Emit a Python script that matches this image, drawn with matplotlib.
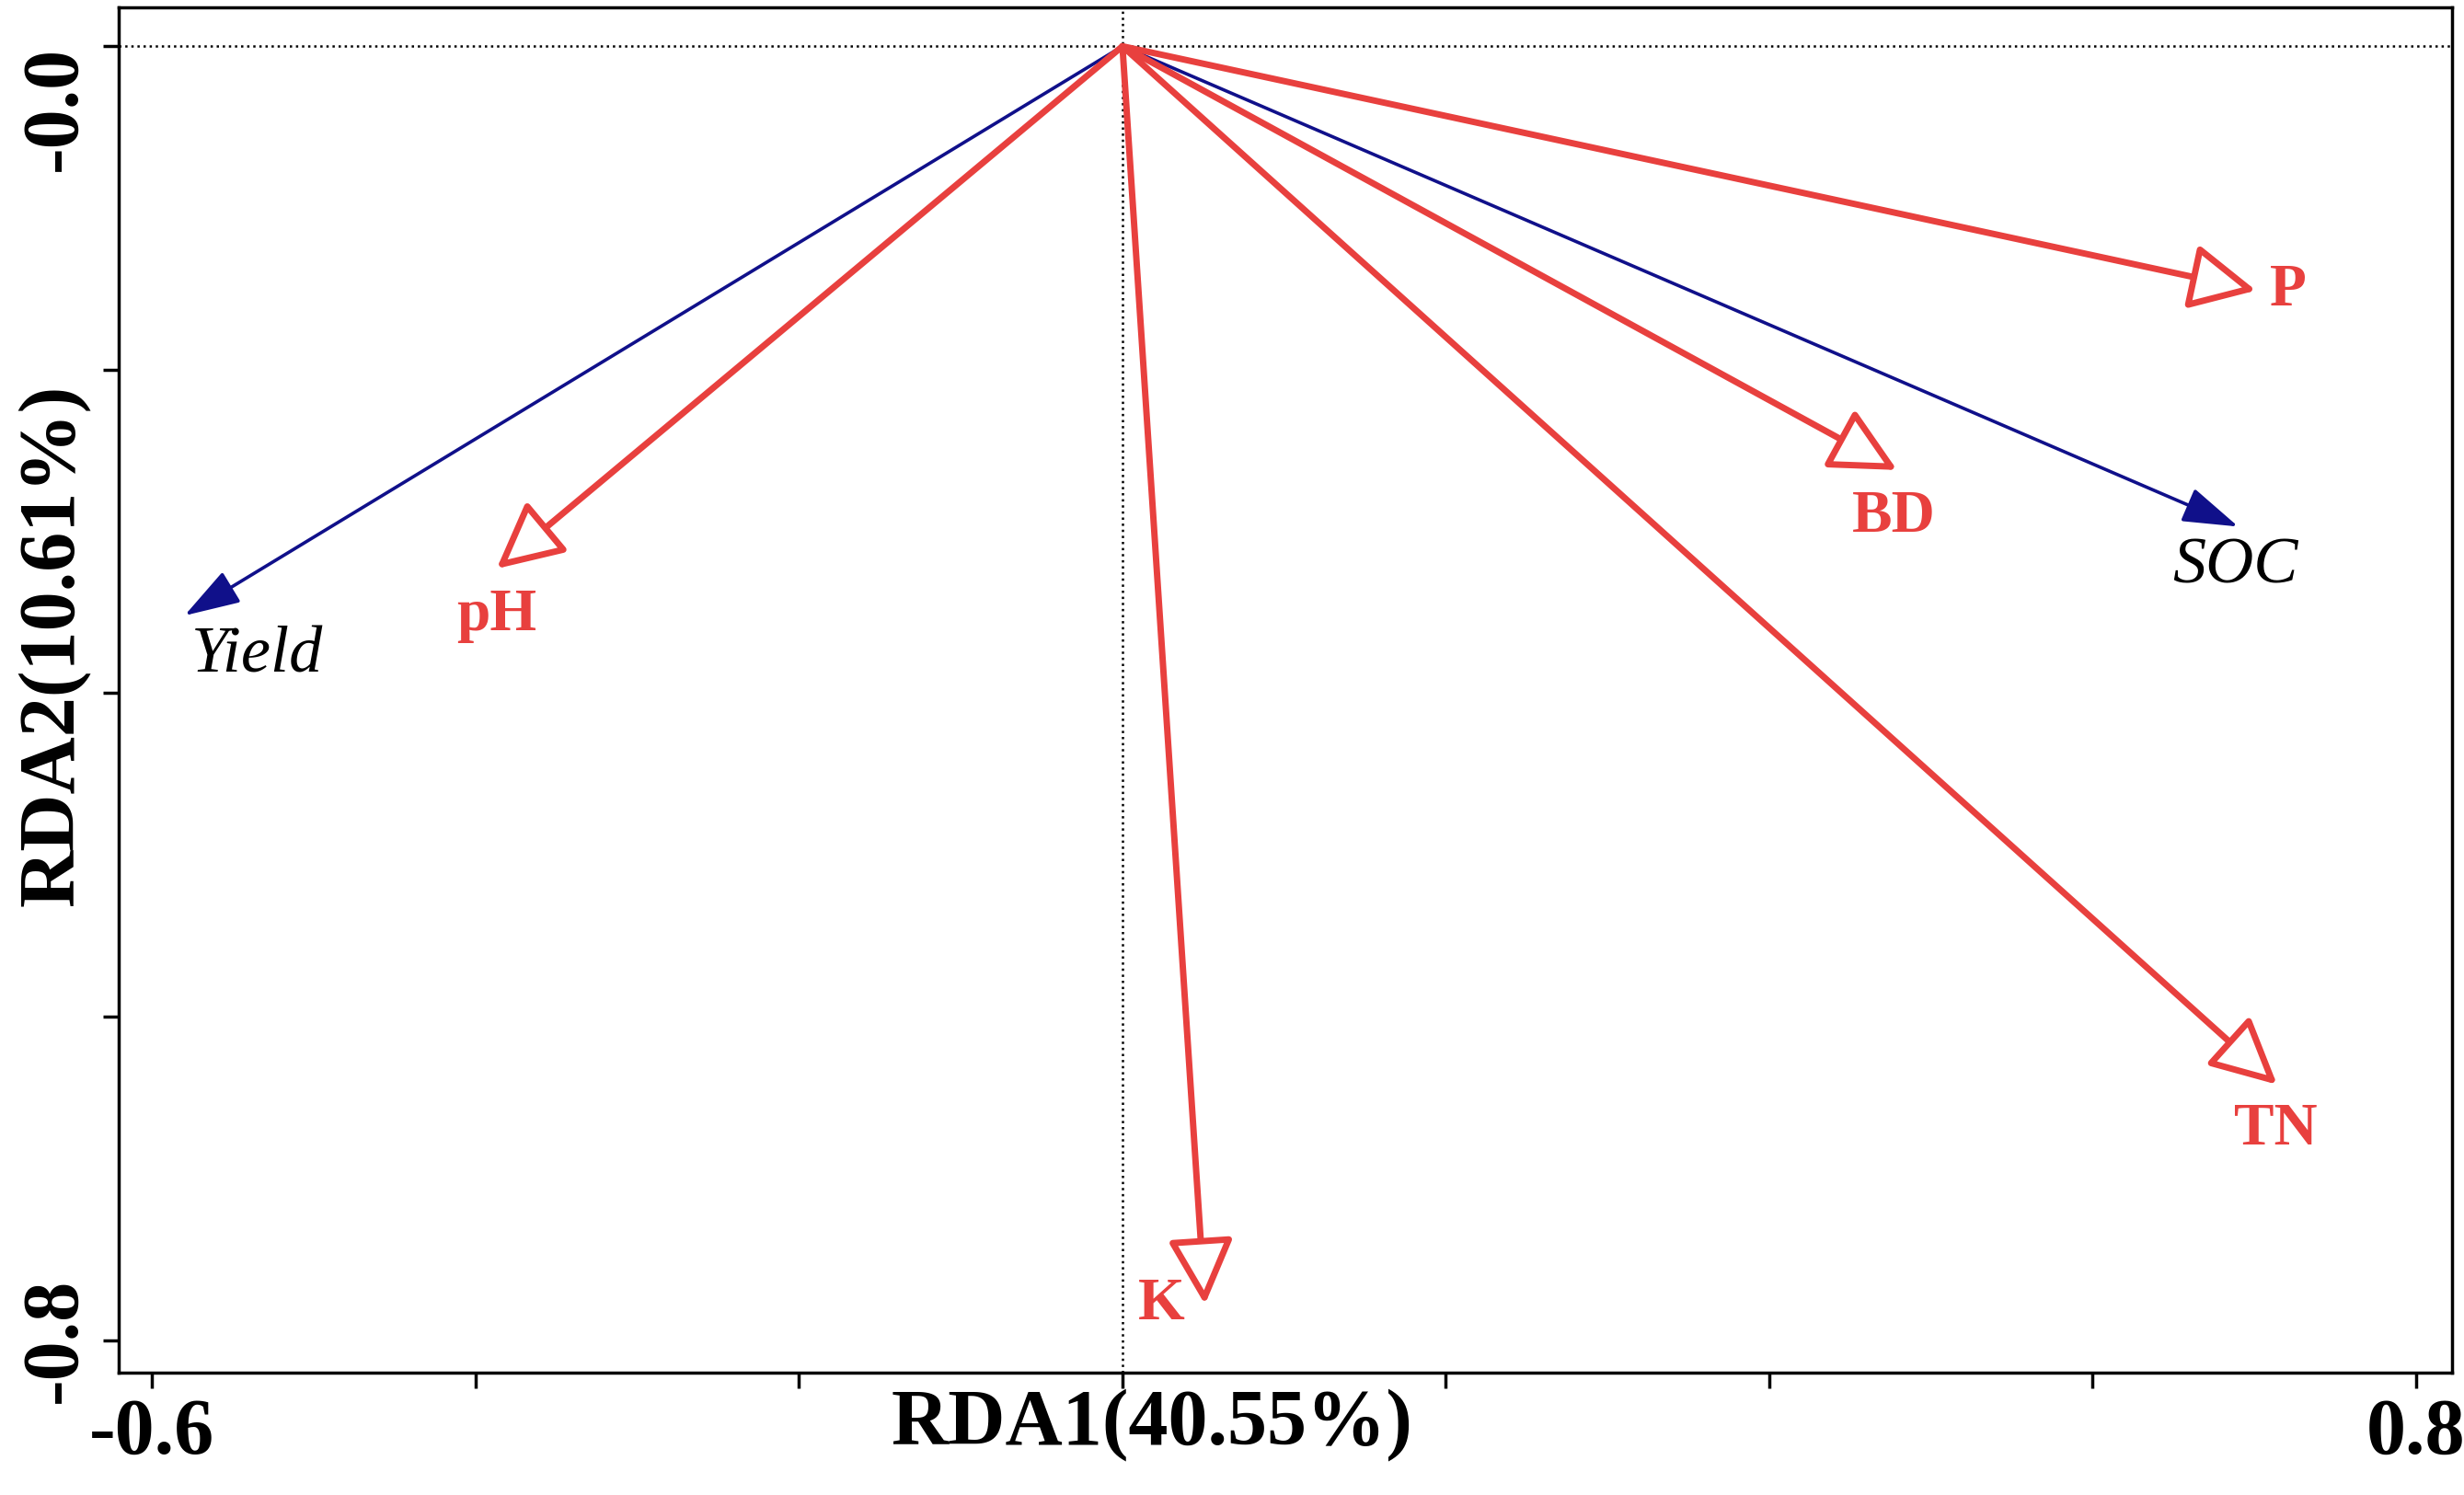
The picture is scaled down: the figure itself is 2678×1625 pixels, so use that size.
import numpy as np
import matplotlib.pyplot as plt

# Arrow end points (RDA1, RDA2)
soil_names = ["pH", "K", "BD", "P", "TN"]
soil_x = [-0.387, 0.051, 0.479, 0.701, 0.714]
soil_y = [-0.323, -0.778, -0.262, -0.151, -0.642]

resp_names = ["Yield", "SOC"]
resp_x = [-0.580, 0.690]
resp_y = [-0.352, -0.297]

# label positions
soil_lab_x = [-0.387, 0.024, 0.477, 0.721, 0.713]
soil_lab_y = [-0.352, -0.778, -0.291, -0.151, -0.670]
resp_lab_x = [-0.535, 0.688]
resp_lab_y = [-0.377, -0.322]

red = "#e8403e"
blue = "#10108a"
plt.rcParams["font.family"] = ["Liberation Serif", "DejaVu Serif"]

fig = plt.figure(figsize=(26.78, 16.25), dpi=100)
ax = fig.add_axes([0.048, 0.082, 0.947, 0.913])
ax.set_xlim(-0.621, 0.822)
ax.set_ylim(-0.82, 0.024)

ax.axvline(0, color="black", ls=":", lw=1.8)
ax.axhline(0, color="black", ls=":", lw=1.8)

for n, x, y in zip(resp_names, resp_x, resp_y):
    ax.annotate("", xy=(x, y), xytext=(0, 0),
                arrowprops=dict(arrowstyle="-|>,head_length=1.25,head_width=0.4",
                                mutation_scale=30, color=blue, lw=2.6,
                                shrinkA=0, shrinkB=0))
for n, x, y in zip(resp_names, resp_lab_x, resp_lab_y):
    ax.text(x, y, n, color="black", style="italic", fontsize=52, ha="center", va="center")

for n, x, y in zip(soil_names, soil_x, soil_y):
    ax.annotate("", xy=(x, y), xytext=(0, 0),
                arrowprops=dict(arrowstyle="-|>,head_length=1.1,head_width=0.55",
                                mutation_scale=40, fc="white", ec=red, lw=5,
                                shrinkA=0, shrinkB=0))
for n, x, y in zip(soil_names, soil_lab_x, soil_lab_y):
    ax.text(x, y, n, color=red, fontweight="bold", fontsize=47, ha="center", va="center")

xt = np.round(np.arange(-0.6, 0.81, 0.2), 1)
ax.set_xticks(xt)
ax.set_xticklabels(["-0.6"] + [""] * 6 + ["0.8"])
yt = np.round(np.arange(0, -0.81, -0.2), 1)
ax.set_yticks(yt)
ax.set_yticklabels(["-0.0", "", "", "", "-0.8"], rotation=90)
ax.tick_params(labelsize=62, width=2.5, length=12, pad=8)
for lab in ax.get_xticklabels() + ax.get_yticklabels():
    lab.set_fontweight("bold")
ylabs = ax.get_yticklabels()
ylabs[0].set_va("top")
ylabs[-1].set_va("center")

ax.set_xlabel("RDA1(40.55%)", fontsize=62, fontweight="bold")
ax.set_ylabel("RDA2(10.61%)", fontsize=62, fontweight="bold")
ax.xaxis.set_label_coords(0.443, -0.012)
ax.yaxis.set_label_coords(-0.012, 0.533)
ax.xaxis.label.set_va("top")
ax.yaxis.label.set_va("bottom")
for s in ax.spines.values():
    s.set_linewidth(2.5)

fig.savefig("out.png", dpi=100)
